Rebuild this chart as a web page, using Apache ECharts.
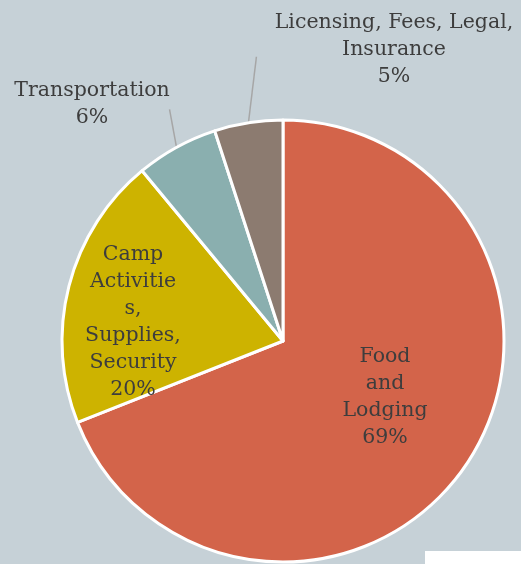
<!DOCTYPE html>
<html>
<head>
<meta charset="utf-8">
<script src="https://cdn.jsdelivr.net/npm/echarts@6/dist/echarts.min.js"></script>
<style>
  html, body { margin: 0; padding: 0; background: #c6d1d7; }
  #main { width: 521px; height: 564px; }
</style>
</head>
<body>
<div id="main"></div>
<script>
// budget split, percent
const categories = [
    'Food\nand\nLodging',
    'Camp\nActivitie\ns,\nSupplies,\nSecurity',
    'Transportation',
    'Licensing, Fees, Legal,\nInsurance'
]
const values = [69, 20, 6, 5]
const colors = ['#d3644a', '#cdb300', '#8aafaf', '#8c7b70']

// where each label block sits (center), px
const labelSpots = [
    [385, 397],
    [133, 322],
    [92, 104],
    [394, 50]
]
// leader line tail offset from the slice edge, px
const lineTails = [null, null, [-7, -38], [8, -66]]

const chart = echarts.init(document.getElementById('main'), null, { renderer: 'canvas' })

const data = categories.map((name, i) => ({
    name: name,
    value: values[i],
    itemStyle: { color: colors[i] },
    label: { position: i < 2 ? 'inside' : 'outside' },
    labelLine: { show: i >= 2 }
}))

const option = {
    backgroundColor: '#c6d1d7',
    animation: false,
    series: [{
        type: 'pie',
        center: [283, 341],
        radius: 221,
        startAngle: 90,
        clockwise: true,
        avoidLabelOverlap: false,
        itemStyle: {
            borderColor: '#ffffff',
            borderWidth: 3
        },
        label: {
            show: true,
            formatter: '{b}\n{d}%',
            fontFamily: 'DejaVu Serif',
            fontSize: 20.5,
            lineHeight: 27,
            color: '#3d3d3d',
            align: 'center'
        },
        labelLine: {
            length: 12,
            length2: 0,
            lineStyle: { color: '#a6a6a6', width: 1.5 }
        },
        labelLayout: function(params) {
            const i = params.dataIndex
            const spot = labelSpots[i]
            const out = {
                x: spot[0],
                y: spot[1],
                align: 'center',
                verticalAlign: 'middle'
            }
            if (lineTails[i] && params.labelLinePoints) {
                const p0 = params.labelLinePoints[0]
                out.labelLinePoints = [
                    [p0[0], p0[1]],
                    [p0[0] + lineTails[i][0], p0[1] + lineTails[i][1]]
                ]
            }
            return out
        },
        data: data
    }],
    graphic: [{
        type: 'rect',
        shape: { x: 425, y: 551, width: 96, height: 13 },
        style: { fill: '#ffffff' },
        z: 100
    }]
}

chart.setOption(option)
</script>
</body>
</html>
